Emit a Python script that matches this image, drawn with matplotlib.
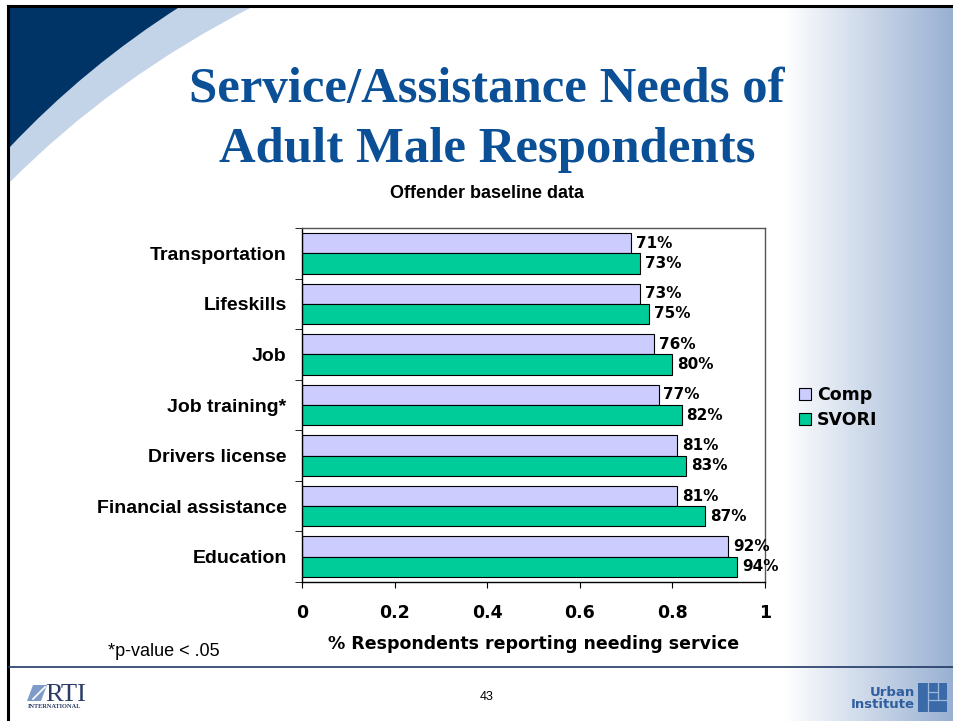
import numpy as np
import matplotlib.pyplot as plt
from matplotlib.patches import PathPatch, Rectangle, Polygon
from matplotlib.path import Path

W, H = 954, 721

services = ["Transportation", "Lifeskills", "Job", "Job training*",
            "Drivers license", "Financial assistance", "Education"]
comp = [0.71, 0.73, 0.76, 0.77, 0.81, 0.81, 0.92]
svori = [0.73, 0.75, 0.80, 0.82, 0.83, 0.87, 0.94]
xticks = [0, 0.2, 0.4, 0.6, 0.8, 1]
xtick_labels = ["0", "0.2", "0.4", "0.6", "0.8", "1"]

NAVY = "#003366"
LIGHT_BAND = "#c3d3e8"
TITLE_BLUE = "#0b5096"
COMP_COLOR = "#ccccff"
SVORI_COLOR = "#00cc99"
URBAN_BLUE = "#2f5f9f"

SANS = ["Liberation Sans", "DejaVu Sans"]
VERDANA = ["DejaVu Sans"]

fig = plt.figure(figsize=(W / 100, H / 100), dpi=100)

# slide layer, in pixel units (y grows downward)
bg = fig.add_axes([0, 0, 1, 1], zorder=0)

# blue fade along the right edge
ramp = np.linspace(0, 1, 256)[:, None]
end = np.array([152, 176, 210]) / 255
grad = (1 - ramp) + ramp * end
bg.imshow(grad[None, :, :], extent=(783, W, H, 7), aspect="auto",
          interpolation="bilinear", zorder=0)
bg.set_xlim(0, W)
bg.set_ylim(H, 0)
bg.axis("off")


def swoosh(p0, p1, p2, color):
    verts = [(9, 6), p0, p1, p2, (9, 6)]
    codes = [Path.MOVETO, Path.LINETO, Path.CURVE3, Path.CURVE3, Path.CLOSEPOLY]
    bg.add_patch(PathPatch(Path(verts, codes), facecolor=color,
                           edgecolor="none", zorder=1))


swoosh((254, 6), (113, 78), (9, 183), LIGHT_BAND)
swoosh((181, 6), (85, 67), (9, 148), NAVY)

# slide frame and footer rule
bg.plot([8.5, 8.5], [5.5, H], color="black", lw=2.2, zorder=2)
bg.plot([8.5, W], [5.5, 5.5], color="black", lw=2.2, zorder=2)
bg.plot([9, W], [667, 667], color="#1f3864", lw=1.2, zorder=2)

# title block
bg.text(487, 102, "Service/Assistance Needs of", ha="center", va="baseline",
        fontsize=36.5, fontweight="bold", family="Liberation Serif",
        color=TITLE_BLUE)
bg.text(487, 162, "Adult Male Respondents", ha="center", va="baseline",
        fontsize=36.5, fontweight="bold", family="Liberation Serif",
        color=TITLE_BLUE)
bg.text(487, 194, "Offender baseline data", ha="center", va="center",
        fontsize=13, fontweight="bold", family=SANS)

bg.text(108, 651, "*p-value < .05", ha="left", va="center",
        fontsize=13, family=SANS)
bg.text(487, 697, "43", ha="center", va="center", fontsize=9, family=SANS)

# RTI mark
bg.add_patch(Polygon([(33, 685), (47, 685), (41, 701), (27, 701)],
                     closed=True, facecolor="#7f9cc8", edgecolor="none"))
bg.plot([33, 45], [699, 687], color="white", lw=1.2)
bg.text(45, 701, "RTI", ha="left", va="baseline", fontsize=19,
        family="Liberation Serif", color="#2b3a67")
bg.text(28, 707, "INTERNATIONAL", ha="left", va="center", fontsize=4.6,
        fontweight="bold", family="Liberation Serif", color="#2b3a67")

# Urban Institute mark
bg.text(915, 692, "Urban", ha="right", va="center", fontsize=9.5,
        fontweight="bold", family=VERDANA, color=URBAN_BLUE)
bg.text(915, 705, "Institute", ha="right", va="center", fontsize=9.5,
        fontweight="bold", family=VERDANA, color=URBAN_BLUE)
bg.add_patch(Rectangle((918, 683), 29, 29, facecolor="#3a6aa8",
                       edgecolor="none"))
for xs, ys in [([928, 928], [683, 712]), ([928, 947], [700, 700]),
               ([938, 938], [683, 700]), ([928, 938], [692, 692])]:
    bg.plot(xs, ys, color="#9db8dc", lw=0.9)

# chart
ax = fig.add_axes([302 / W, 1 - 582 / H, (765 - 302) / W, (582 - 228) / H],
                  zorder=1)
ax.set_facecolor("white")
y = np.arange(len(services))
h = 0.4
ax.barh(y - h / 2, comp, height=h, color=COMP_COLOR, edgecolor="black",
        linewidth=0.8, label="Comp")
ax.barh(y + h / 2, svori, height=h, color=SVORI_COLOR, edgecolor="black",
        linewidth=0.8, label="SVORI")

for i, (c, s) in enumerate(zip(comp, svori)):
    for val, yy in [(c, i - h / 2), (s, i + h / 2)]:
        ax.annotate(f"{val:.0%}", (val, yy), xytext=(3.5, 0),
                    textcoords="offset points", ha="left", va="center",
                    fontsize=11, fontweight="bold", family=VERDANA,
                    annotation_clip=False)

ax.set_xlim(0, 1)
ax.set_ylim(len(services) - 0.5, -0.5)

ax.set_yticks(y, services)
ax.set_yticks(np.arange(-0.5, len(services), 1), minor=True)
ax.tick_params(axis="y", which="major", length=0, pad=11)
ax.tick_params(axis="y", which="minor", length=5, direction="out")
for lab in ax.get_yticklabels():
    lab.set_family(SANS)
    lab.set_fontsize(14)
    lab.set_fontweight("bold")

ax.set_xticks(xticks, xtick_labels)
ax.tick_params(axis="x", length=4, pad=12)
for lab in ax.get_xticklabels():
    lab.set_family(VERDANA)
    lab.set_fontsize(12.5)
    lab.set_fontweight("bold")

ax.set_xlabel("% Respondents reporting needing service", fontsize=12.5,
              fontweight="bold", family=VERDANA, labelpad=9.5)

for side in ["left", "bottom"]:
    ax.spines[side].set_color("black")
    ax.spines[side].set_linewidth(1)
for side in ["top", "right"]:
    ax.spines[side].set_color("#555555")
    ax.spines[side].set_linewidth(1)

ax.legend(loc="upper left", bbox_to_anchor=(799 / W, 1 - 386 / H),
          bbox_transform=fig.transFigure, frameon=False, borderpad=0,
          borderaxespad=0, handlelength=0.7, handleheight=0.7,
          handletextpad=0.35, labelspacing=0.42,
          prop={"family": VERDANA, "size": 12.5, "weight": "bold"})

fig.savefig("out.png", dpi=100)
